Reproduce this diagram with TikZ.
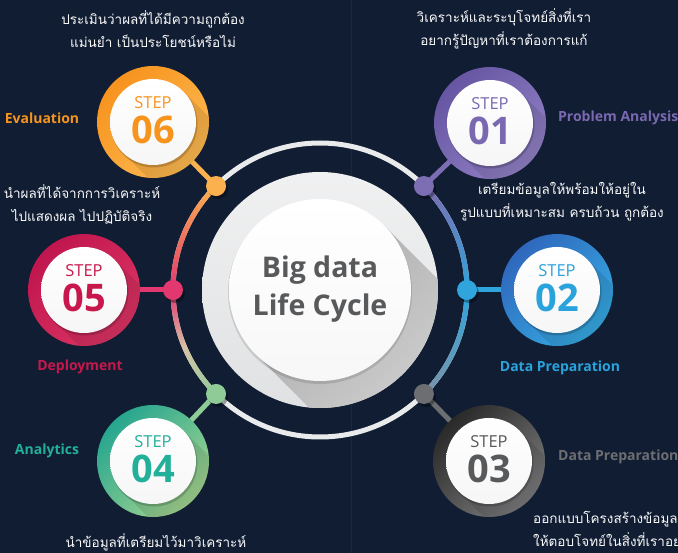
\documentclass[tikz,border=0pt]{standalone}
\usepackage{fontspec}
\setmainfont{Open Sans}
\newfontfamily\thaifont[Script=Thai]{Loma}
\usetikzlibrary{calc,shadings}
\definecolor{bg}{HTML}{111D33}
\definecolor{vline}{HTML}{1B2940}
\definecolor{ringw}{HTML}{E9EAEB}
\definecolor{o1}{HTML}{F7931E}\definecolor{o2}{HTML}{FDBA52}\definecolor{ot}{HTML}{F7941D}\definecolor{od}{HTML}{FBB24E}
\definecolor{p1}{HTML}{6656A3}\definecolor{p2}{HTML}{9180C4}\definecolor{pt}{HTML}{7A68B0}\definecolor{pd}{HTML}{7D6DB2}
\definecolor{b1}{HTML}{2F68BD}\definecolor{b2}{HTML}{36AAE2}\definecolor{bt}{HTML}{2AA3DC}\definecolor{bd}{HTML}{2FA4DD}
\definecolor{g1}{HTML}{2A2A2A}\definecolor{g2}{HTML}{7A7A7C}\definecolor{gt}{HTML}{58595B}\definecolor{gd}{HTML}{6D6E71}
\definecolor{gl}{HTML}{6D6E71}
\definecolor{t1}{HTML}{26A68F}\definecolor{t2}{HTML}{A3D48F}\definecolor{tt}{HTML}{22B09A}\definecolor{td}{HTML}{8ECB97}
\definecolor{r1}{HTML}{C0164F}\definecolor{r2}{HTML}{DC3463}\definecolor{rt}{HTML}{C8174C}\definecolor{rd}{HTML}{E2376F}
\definecolor{beige}{HTML}{D8C2A6}
\definecolor{steelg}{HTML}{7F93A6}
\definecolor{titlec}{HTML}{58595B}
\newcommand\garc[4]{%
  \foreach \k in {0,...,19}{%
    \pgfmathsetmacro\aa{#1+(#2-#1)*\k/20}%
    \pgfmathsetmacro\bb{#1+(#2-#1)*(\k+1.3)/20}%
    \pgfmathtruncatemacro\p{100-\k*5}%
    \draw[line width=5, color=#3!\p!#4] (c) ++(\aa:147) arc[start angle=\aa, end angle=\bb, radius=147];
  }}
\newcommand\stepc[8]{% name, x, y, colA, colB, textcol, number, shade angle
  \coordinate (#1) at (#2,#3);
  \shade[left color=#4, right color=#5, shading angle=#8] (#1) circle[radius=56];
  \begin{scope}
    \clip (#1) circle[radius=56];
    \fill[black, opacity=.10] ($(#1)+(30.4,-30.4)$) -- ++(70,70) -- ($(#1)+(-30.4,30.4)+(70,70)$) -- ($(#1)+(-30.4,30.4)$) -- cycle;
  \end{scope}
  \fill[black, opacity=.18] ($(#1)+(1,2)$) circle[radius=43.5];
  \shade[top color=white, bottom color=white!93!gray] (#1) circle[radius=43];
  \node[font=\fontsize{16.5}{18}\selectfont, text=#6, inner sep=0] (#1s) at ($(#1)+(0,-19)$) {STEP};
  \node[font=\bfseries\fontsize{38}{40}\selectfont, text=#6, inner sep=0] (#1n) at ($(#1)+(0,8)$) {#7};
}
\tikzset{
  lbl/.style={font=\bfseries\fontsize{14}{16}\selectfont, inner sep=0},
  thaitxt/.style={font=\thaifont\fontsize{13.5}{23}\selectfont, text=white!96!gray, align=center, inner sep=0},
  conn/.style={line width=5},
}
\begin{document}
\begin{tikzpicture}[x=1pt,y=-1pt]
\fill[bg] (0,0) rectangle (678,553);
\useasboundingbox (0,0) rectangle (678,553);
\draw[vline, line width=1] (351,0) -- (351,553);
\coordinate (c) at (320,290);
% ring
\draw[ringw, line width=5] (c) circle[radius=147];
\garc{225}{180}{od}{rd}
\garc{180}{157.5}{rd}{beige}
\garc{157.5}{135}{beige}{td}
\garc{315}{360}{pd}{bd}
\garc{0}{45}{bd}{steelg}
% dots positions
\coordinate (d6) at ($(c)+(225:147)$);
\coordinate (d5) at ($(c)+(180:147)$);
\coordinate (d4) at ($(c)+(135:147)$);
\coordinate (d1) at ($(c)+(315:147)$);
\coordinate (d2) at ($(c)+(0:147)$);
\coordinate (d3) at ($(c)+(45:147)$);
% step centres
\coordinate (s6) at (153,122);
\coordinate (s1) at (490,123);
\coordinate (s5) at (84,290);
\coordinate (s2) at (557,290);
\coordinate (s4) at (153,461);
\coordinate (s3) at (489,461);
% connectors
\draw[conn, od] (s6) -- (d6);
\draw[conn, pd] (s1) -- (d1);
\draw[conn, rd] (s5) -- (d5);
\draw[conn, bd] (s2) -- (d2);
\draw[conn, td] (s4) -- (d4);
\draw[conn, gd] (s3) -- (d3);
% dots
\foreach \d/\col in {d6/od, d1/pd, d5/rd, d2/bd, d4/td, d3/gd}{
  \fill[black, opacity=.35] ($(\d)+(2,3)$) circle[radius=10];
  \fill[\col] (\d) circle[radius=10];
}
% central disc
\shade[top color=ringw!70!white, bottom color=ringw!92!gray] (c) circle[radius=118];
\begin{scope}
  \clip (c) circle[radius=118];
  \shade[upper left=gray!75, lower right=gray!20, upper right=gray!45, lower left=gray!45]
    ($(c)+(64.3,-64.3)$) -- ++(130,130) -- ($(c)+(-64.3,64.3)+(130,130)$) -- ($(c)+(-64.3,64.3)$) -- cycle;
\end{scope}
\fill[black, opacity=.12] ($(c)+(0,2)$) circle[radius=92];
\shade[top color=white, bottom color=white!94!gray] (c) circle[radius=91];
\node[font=\bfseries\fontsize{28.5}{38}\selectfont, text=titlec, align=center] (title) at ($(c)+(0,-1)$) {Big data\\Life Cycle};
% step circles
\stepc{c6}{153}{122}{o1}{o2}{ot}{06}{45}
\stepc{c1}{490}{123}{p1}{p2}{pt}{01}{45}
\stepc{c5}{84}{290}{r1}{r2}{rt}{05}{45}
\stepc{c2}{557}{290}{b1}{b2}{bt}{02}{45}
\stepc{c4}{153}{461}{t1}{t2}{tt}{04}{45}
\stepc{c3}{489}{461}{g1}{g2}{gt}{03}{45}
% labels
\node[lbl, text=ot] (lev) at (42,118) {Evaluation};
\node[lbl, text=pt, anchor=west] (lpa) at (558,118) {Problem Analysis};
\node[lbl, text=rt] (ldep) at (80,367) {Deployment};
\node[lbl, text=bt] (ldp2) at (560,368) {Data Preparation};
\node[lbl, text=tt] (lana) at (47,451) {Analytics};
\node[lbl, text=gl, anchor=west] (ldp3) at (558,457) {Data Preparation};
% thai texts
\node[thaitxt] (t6) at (153,29) {ประเมินว่าผลที่ได้มีความถูกต้อง\\แม่นยำ เป็นประโยชน์หรือไม่};
\node[thaitxt] (t1) at (504,29) {วิเคราะห์และระบุโจทย์สิ่งที่เรา\\อยากรู้ปัญหาที่เราต้องการแก้};
\node[thaitxt] (t5) at (82,204) {นำผลที่ได้จากการวิเคราะห์\\ไปแสดงผล ไปปฏิบัติจริง};
\node[thaitxt] (t2) at (562,202) {เตรียมข้อมูลให้พร้อมให้อยู่ใน\\รูปแบบที่เหมาะสม ครบถ้วน ถูกต้อง};
\node[thaitxt] (t4) at (156,542) {นำข้อมูลที่เตรียมไว้มาวิเคราะห์};
\node[thaitxt, align=left, anchor=west] (t3) at (533,531) {ออกแบบโครงสร้างข้อมูล\\ให้ตอบโจทย์ในสิ่งที่เราอยากรู้};
\end{tikzpicture}
\end{document}
